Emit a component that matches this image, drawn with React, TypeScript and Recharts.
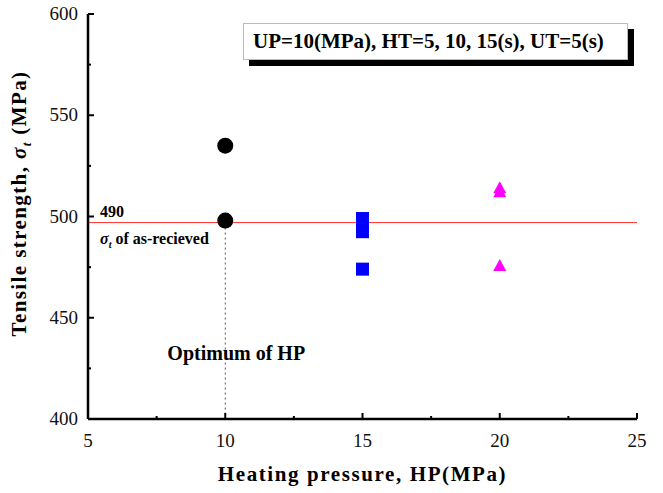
import React from "react";
import {
  ScatterChart,
  Scatter,
  XAxis,
  YAxis,
  ReferenceLine,
} from "recharts";

const FONT = "'Liberation Serif', 'Times New Roman', serif";

// heating pressure (MPa) vs tensile strength (MPa)
const circleHP = [10, 10];
const circleTS = [535, 498];
const squareHP = [15, 15, 15, 15];
const squareTS = [499, 496, 492.5, 474];
const triangleHP = [20, 20, 20];
const triangleTS = [514, 512, 475.5];

const asReceived = 497;
const optimumHP = 10;

const xTicks = [5, 7.5, 10, 12.5, 15, 17.5, 20, 22.5, 25];
const yTicks = [400, 425, 450, 475, 500, 525, 550, 575, 600];

const toPoints = (xs: number[], ys: number[]) => xs.map((x, i) => ({ hp: x, ts: ys[i] }));

const circles = toPoints(circleHP, circleTS);
const squares = toPoints(squareHP, squareTS);
const triangles = toPoints(triangleHP, triangleTS);

const Dot = (p: any) => <circle cx={p.cx} cy={p.cy} r={8} fill="#000" />;
const Square = (p: any) => <rect x={p.cx - 6.5} y={p.cy - 6.5} width={13} height={13} fill="#0000ff" />;
const Tri = (p: any) => (
  <polygon
    points={`${p.cx},${p.cy - 7} ${p.cx - 6.5},${p.cy + 5} ${p.cx + 6.5},${p.cy + 5}`}
    fill="#ff00ff"
  />
);

const XTick = (props: any) => {
  const { x, y, payload } = props;
  const major = payload.value % 5 === 0;
  return (
    <g>
      <line x1={x} x2={x} y1={y} y2={y - (major ? 6 : 3)} stroke="#000" strokeWidth={2} />
      {major && (
        <text x={x} y={y + 28} textAnchor="middle" fontFamily={FONT} fontSize={19} fill="#111">
          {payload.value}
        </text>
      )}
    </g>
  );
};

const YTick = (props: any) => {
  const { x, y, payload } = props;
  const major = payload.value % 50 === 0;
  return (
    <g>
      <line x1={x} x2={x + (major ? 6 : 3)} y1={y} y2={y} stroke="#000" strokeWidth={2} />
      {major && (
        <text x={x - 10} y={y} dy={6} textAnchor="end" fontFamily={FONT} fontSize={19} fill="#111">
          {payload.value}
        </text>
      )}
    </g>
  );
};

const XLabel = (props: any) => {
  const { x, y, width } = props.viewBox;
  return (
    <text
      x={x + width / 2}
      y={y + 62}
      textAnchor="middle"
      fontFamily={FONT}
      fontWeight="bold"
      fontSize={21}
      letterSpacing={1.6}
      fill="#000"
    >
      Heating pressure, HP(MPa)
    </text>
  );
};

const YLabel = (props: any) => {
  const { y, height } = props.viewBox;
  const cx = 26;
  const cy = y + height / 2 - 13;
  return (
    <text
      x={cx}
      y={cy}
      transform={`rotate(-90 ${cx} ${cy})`}
      textAnchor="middle"
      fontFamily={FONT}
      fontWeight="bold"
      fontSize={21}
      letterSpacing={1.4}
      fill="#000"
    >
      Tensile strength,{" "}
      <tspan fontStyle="italic">σ</tspan>
      <tspan fontStyle="italic" fontSize={13} dy={5}>t</tspan>
      <tspan dy={-5}> (MPa)</tspan>
    </text>
  );
};

const AsReceivedLabel = (props: any) => {
  const { x, y } = props.viewBox;
  return (
    <g fontFamily={FONT} fontWeight="bold" fill="#000">
      <text x={x + 12} y={y - 6} fontSize={16}>490</text>
      <text x={x + 12} y={y + 21} fontSize={16}>
        <tspan fontStyle="italic">σ</tspan>
        <tspan fontStyle="italic" fontSize={10} dy={4}>t</tspan>
        <tspan dy={-4}> of as-recieved</tspan>
      </text>
    </g>
  );
};

const OptimumLabel = (props: any) => {
  const { x, y, height } = props.viewBox;
  return (
    <text
      x={x + 11}
      y={y + height - 59}
      textAnchor="middle"
      fontFamily={FONT}
      fontWeight="bold"
      fontSize={20}
      fill="#000"
    >
      Optimum of HP
    </text>
  );
};

export default function App() {
  return (
    <div style={{ position: "absolute", left: 0, top: 0, width: 663, height: 493, background: "#fff" }}>
      <ScatterChart width={663} height={493} margin={{ top: 14, right: 26, bottom: 0, left: 0 }}>
        <XAxis
          type="number"
          dataKey="hp"
          domain={[5, 25]}
          ticks={xTicks}
          interval={0}
          height={74}
          tickSize={0}
          tickMargin={0}
          tickLine={false}
          tick={<XTick />}
          axisLine={{ stroke: "#000", strokeWidth: 2.5 }}
          label={<XLabel />}
        />
        <XAxis xAxisId="top" type="number" orientation="top" domain={[5, 25]} height={0} tick={false} tickLine={false} axisLine={{ stroke: "#000", strokeWidth: 2.5 }} />
        <YAxis
          type="number"
          dataKey="ts"
          domain={[400, 600]}
          ticks={yTicks}
          interval={0}
          width={88}
          tickSize={0}
          tickMargin={0}
          tickLine={false}
          tick={<YTick />}
          axisLine={{ stroke: "#000", strokeWidth: 2.5 }}
          label={<YLabel />}
        />
        <YAxis yAxisId="right" type="number" orientation="right" domain={[400, 600]} width={0} tick={false} tickLine={false} axisLine={{ stroke: "#000", strokeWidth: 2.5 }} />
        <ReferenceLine y={asReceived} stroke="#ff3030" strokeWidth={1} label={<AsReceivedLabel />} />
        <ReferenceLine
          segment={[
            { x: optimumHP, y: asReceived },
            { x: optimumHP, y: 400 },
          ]}
          stroke="#555"
          strokeWidth={1}
          strokeDasharray="2 3"
          label={<OptimumLabel />}
        />
        <Scatter data={circles} shape={<Dot />} fill="#000" isAnimationActive={false} />
        <Scatter data={squares} shape={<Square />} fill="#0000ff" isAnimationActive={false} />
        <Scatter data={triangles} shape={<Tri />} fill="#ff00ff" isAnimationActive={false} />
      </ScatterChart>
      <div
        style={{
          position: "absolute",
          left: 243,
          top: 23,
          width: 374,
          height: 35,
          border: "1px solid #bbb",
          boxShadow: "6px 6px 0 #000",
          background: "#fff",
          fontFamily: FONT,
          fontWeight: "bold",
          fontSize: 21,
          lineHeight: "35px",
          paddingLeft: 9,
          boxSizing: "content-box",
          whiteSpace: "nowrap",
          color: "#000",
        }}
      >
        UP=10(MPa), HT=5, 10, 15(s), UT=5(s)
      </div>
    </div>
  );
}
